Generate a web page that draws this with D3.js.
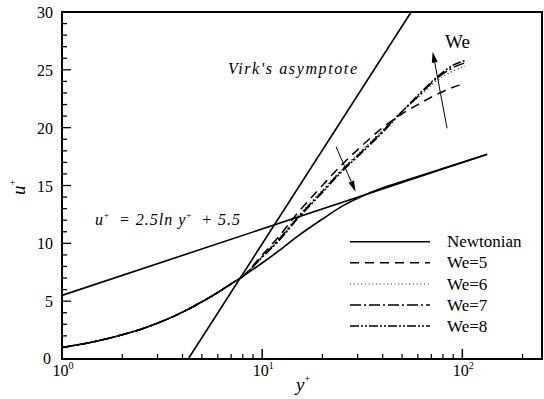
<!DOCTYPE html>
<html>
<head>
<meta charset="utf-8">
<script src="https://cdn.jsdelivr.net/npm/d3@7"></script>
<style>
  body { margin: 0; background: #fff; }
</style>
</head>
<body>
<svg id="chart" width="544" height="399" font-family="'Liberation Serif', 'DejaVu Serif', Tinos, 'Times New Roman', serif"></svg>
<script>
// y+ samples and u+ values
const yPlusNewt = [1, 1.5, 2, 2.5, 3, 4, 5, 6, 7, 8, 10, 12, 15, 20, 25, 30, 40, 50, 70, 100, 133];
const uNewtonian = [1.0, 1.55, 2.1, 2.6, 3.1, 4.05, 4.95, 5.75, 6.5, 7.15, 8.3, 9.3, 10.6, 12.1, 13.2, 13.9, 14.8, 15.35, 16.15, 17.0, 17.7];

const yPlusWe = [1, 1.5, 2, 2.5, 3, 4, 5, 6, 7, 8, 10, 12, 15, 20, 25, 30, 40, 50, 60, 75, 90, 103];
const uWe5 = [1.0, 1.55, 2.1, 2.6, 3.1, 4.05, 4.95, 5.75, 6.5, 7.15, 9.0, 10.5, 12.6, 15.0, 16.8, 18.1, 20.0, 21.2, 22.0, 22.9, 23.5, 23.8];
const uWe6 = [1.0, 1.55, 2.1, 2.6, 3.1, 4.05, 4.95, 5.75, 6.5, 7.15, 8.9, 10.35, 12.3, 14.6, 16.4, 17.7, 19.8, 21.4, 22.6, 24.1, 24.9, 25.3];
const uWe7 = [1.0, 1.55, 2.1, 2.6, 3.1, 4.05, 4.95, 5.75, 6.5, 7.15, 8.85, 10.25, 12.2, 14.5, 16.3, 17.6, 19.7, 21.4, 22.7, 24.3, 25.2, 25.6];
const uWe8 = [1.0, 1.55, 2.1, 2.6, 3.1, 4.05, 4.95, 5.75, 6.5, 7.15, 8.8, 10.15, 12.1, 14.4, 16.2, 17.5, 19.6, 21.4, 22.8, 24.4, 25.4, 25.8];

// straight lines in semilog coordinates (end points)
const yPlusLogLaw = [1, 133];
const uLogLaw = [5.5, 17.7];
const yPlusVirk = [4.27, 55.5];
const uVirk = [0, 30];

// trend arrows: [y+ start, u+ start, y+ tip, u+ tip]
const arrowDown = [23.4, 18.35, 29.3, 14.46];
const arrowUp = [83.9, 19.94, 71.1, 26.57];

const yTicks = [0, 5, 10, 15, 20, 25, 30];
const xDecades = [0, 1, 2];
const legendNames = ["Newtonian", "We=5", "We=6", "We=7", "We=8"];

const svg = d3.select("#chart");
const x = d3.scaleLog().domain([1, 250]).range([62, 542]);
const y = d3.scaleLinear().domain([0, 30]).range([359, 12]);

const styles = [
  { dash: null, width: 1.6, color: "#000" },
  { dash: "9,6", width: 1.5, color: "#000" },
  { dash: "1.2,2.5", width: 1.2, color: "#444" },
  { dash: "11,3,2,3", width: 1.5, color: "#000" },
  { dash: "9,2,2,2,2,2", width: 1.5, color: "#000" }
];

// ticks (inward)
const g = svg.append("g");
d3.range(0, 31).forEach(v => {
  const major = v % 5 === 0;
  g.append("line").attr("x1", x(1)).attr("x2", x(1) + (major ? 9 : 5))
    .attr("y1", y(v)).attr("y2", y(v)).attr("stroke", "#000").attr("stroke-width", 1.3);
});
const minorX = [];
[1, 10, 100].forEach(d => d3.range(2, 10).forEach(k => { if (d * k <= 250) minorX.push(d * k); }));
minorX.forEach(v => {
  g.append("line").attr("x1", x(v)).attr("x2", x(v)).attr("y1", y(0)).attr("y2", y(0) - 5)
    .attr("stroke", "#000").attr("stroke-width", 1.2);
});
xDecades.forEach(p => {
  g.append("line").attr("x1", x(10 ** p)).attr("x2", x(10 ** p)).attr("y1", y(0)).attr("y2", y(0) - 10)
    .attr("stroke", "#000").attr("stroke-width", 1.5);
});

// frame
svg.append("rect").attr("x", x(1)).attr("y", y(30)).attr("width", x(250) - x(1)).attr("height", y(0) - y(30))
  .attr("fill", "none").attr("stroke", "#000").attr("stroke-width", 2);

// tick labels
yTicks.forEach(v => {
  svg.append("text").attr("x", v === 0 ? 51 : 53).attr("y", y(v) + (v === 0 ? 5 : 6))
    .attr("text-anchor", "end").attr("font-size", 16).text(v);
});
xDecades.forEach(p => {
  const t = svg.append("text").attr("x", x(10 ** p) + 1).attr("y", 376)
    .attr("text-anchor", "middle").attr("font-size", 16);
  t.append("tspan").text("10");
  t.append("tspan").attr("dy", -7).attr("font-size", 10).text(p);
});

// axis titles
const yl = svg.append("text").attr("transform", "translate(25,195) rotate(-90)")
  .attr("font-size", 19).attr("font-style", "italic");
yl.append("tspan").text("u");
yl.append("tspan").attr("dy", -9).attr("font-size", 10).attr("font-style", "normal").text("+");
const xl = svg.append("text").attr("x", 296).attr("y", 391)
  .attr("font-size", 19).attr("font-style", "italic");
xl.append("tspan").text("y");
xl.append("tspan").attr("dy", -9).attr("font-size", 10).attr("font-style", "normal").text("+");

// curves
const line = d3.line().x(d => x(d[0])).y(d => y(d[1])).curve(d3.curveMonotoneX);
const straight = d3.line().x(d => x(d[0])).y(d => y(d[1]));
const zip = (a, b) => a.map((v, i) => [v, b[i]]);

svg.append("path").attr("d", straight(zip(yPlusLogLaw, uLogLaw)))
  .attr("fill", "none").attr("stroke", "#000").attr("stroke-width", 1.6);
svg.append("path").attr("d", straight(zip(yPlusVirk, uVirk)))
  .attr("fill", "none").attr("stroke", "#000").attr("stroke-width", 1.6);

const series = [
  [yPlusNewt, uNewtonian],
  [yPlusWe, uWe5],
  [yPlusWe, uWe6],
  [yPlusWe, uWe7],
  [yPlusWe, uWe8]
];
series.forEach((s, i) => {
  svg.append("path").attr("d", line(zip(s[0], s[1])))
    .attr("fill", "none").attr("stroke", styles[i].color)
    .attr("stroke-width", styles[i].width)
    .attr("stroke-dasharray", styles[i].dash);
});

// arrows
function arrow(a) {
  const x0 = x(a[0]), y0 = y(a[1]), x1 = x(a[2]), y1 = y(a[3]);
  const ang = Math.atan2(y1 - y0, x1 - x0);
  const L = 11, W = 3;
  const bx = x1 - L * Math.cos(ang), by = y1 - L * Math.sin(ang);
  svg.append("line").attr("x1", x0).attr("y1", y0).attr("x2", bx).attr("y2", by)
    .attr("stroke", "#000").attr("stroke-width", 1);
  const px = -Math.sin(ang) * W, py = Math.cos(ang) * W;
  svg.append("path")
    .attr("d", `M${x1},${y1}L${bx + px},${by + py}L${bx - px},${by - py}Z`)
    .attr("fill", "#000");
}
arrow(arrowDown);
arrow(arrowUp);

// annotations
svg.append("text").attr("x", 445).attr("y", 48).attr("font-size", 19).text("We");
svg.append("text").attr("x", 228).attr("y", 74).attr("font-size", 16).attr("font-style", "italic")
  .attr("textLength", 129).attr("lengthAdjust", "spacing").text("Virk's asymptote");
const eq = svg.append("text").attr("x", 95).attr("y", 225).attr("font-size", 16).attr("font-style", "italic")
  .attr("textLength", 145).attr("lengthAdjust", "spacing");
eq.append("tspan").text("u");
eq.append("tspan").attr("dy", -7).attr("font-size", 9).attr("font-style", "normal").text("+");
eq.append("tspan").attr("dy", 7).text("\u2002= 2.5ln y");
eq.append("tspan").attr("dy", -7).attr("font-size", 9).attr("font-style", "normal").text("+");
eq.append("tspan").attr("dy", 7).text("\u2002+ 5.5");

// legend
const rowY = [241.7, 262.7, 284, 305, 326];
legendNames.forEach((name, i) => {
  svg.append("line").attr("x1", 350).attr("x2", 430).attr("y1", rowY[i]).attr("y2", rowY[i])
    .attr("stroke", styles[i].color).attr("stroke-width", styles[i].width)
    .attr("stroke-dasharray", styles[i].dash);
  svg.append("text").attr("x", 447).attr("y", rowY[i] + 5.5).attr("font-size", 17).text(name);
});
</script>
</body>
</html>
